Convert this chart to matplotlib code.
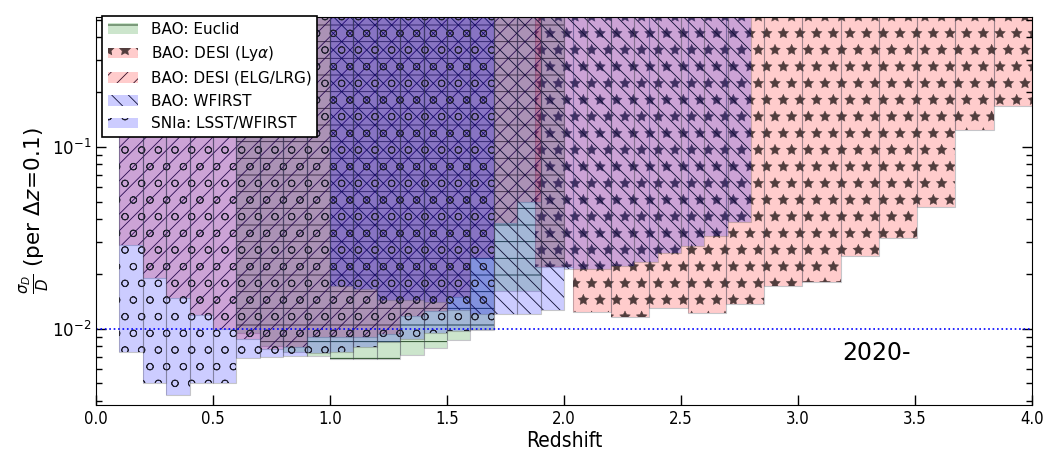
import numpy as np
import matplotlib
matplotlib.use("Agg")
import matplotlib.pyplot as plt

# ---------------- data (lower edge of sigma_D/D per bin, bins of width 0.1) -------------
z_euclid = [0.6, 0.7, 0.8, 0.9, 1.0, 1.1, 1.2, 1.3, 1.4, 1.5, 1.6, 1.7, 1.8, 1.9]
err_euclid = [0.0095, 0.0080, 0.0074, 0.0071, 0.0068, 0.0068, 0.0068, 0.0072,
              0.0078, 0.0087, 0.0098, 0.0162, 0.0162, 0.0220]

# DESI Ly-alpha uses its own (wider) bins
z_lya_edges = [1.875, 2.038, 2.202, 2.365, 2.529, 2.692, 2.856, 3.019,
               3.183, 3.346, 3.510, 3.673, 3.837, 4.0]
err_lya = [0.0218, 0.0124, 0.0116, 0.0130, 0.0122, 0.0137, 0.0172,
           0.0181, 0.0250, 0.0316, 0.0469, 0.124, 0.167]

z_elg = [0.1, 0.2, 0.3, 0.4, 0.5, 0.6, 0.7, 0.8, 0.9, 1.0, 1.1, 1.2, 1.3,
         1.4, 1.5, 1.6, 1.7, 1.8]
err_elg = [0.029, 0.019, 0.0147, 0.0119, 0.0100, 0.0088, 0.0077, 0.0079,
           0.0090, 0.0090, 0.0090, 0.0094, 0.0118, 0.0125, 0.0150, 0.0246,
           0.038, 0.050]

z_wfirst = [1.0, 1.1, 1.2, 1.3, 1.4, 1.5, 1.6, 1.7, 1.8, 1.9, 2.0, 2.1, 2.2,
            2.3, 2.4, 2.5, 2.6, 2.7]
err_wfirst = [0.0172, 0.0166, 0.0143, 0.0143, 0.0140, 0.0126, 0.0120, 0.0121,
              0.0121, 0.0126, 0.0213, 0.0213, 0.0222, 0.0232, 0.0259, 0.0286,
              0.0325, 0.0384]

z_snia = [0.1, 0.2, 0.3, 0.4, 0.5, 0.6, 0.7, 0.8, 0.9, 1.0, 1.1, 1.2, 1.3,
          1.4, 1.5, 1.6]
err_snia = [0.0074, 0.0050, 0.0043, 0.0050, 0.0050, 0.0069, 0.0070, 0.0071,
            0.0073, 0.0074, 0.0079, 0.0084, 0.0088, 0.0095, 0.0097, 0.0100]

labels = ["BAO: Euclid", r"BAO: DESI (Ly$\alpha$)", "BAO: DESI (ELG/LRG)",
          "BAO: WFIRST", "SNIa: LSST/WFIRST"]

TOP = 1.0
DZ = 0.1

plt.rcParams["hatch.linewidth"] = 0.6

fig = plt.figure(figsize=(10.46, 4.49), dpi=100)
ax = fig.add_axes([96 / 1046, 1 - 405 / 449, (1032 - 96) / 1046, (405 - 16.7) / 449])


def draw(left, width, vals, fc, hc, hatch, label, hlw=0.6):
    left = np.asarray(left, float)
    vals = np.asarray(vals, float)
    with plt.rc_context({"hatch.linewidth": hlw}):
        bars = ax.bar(left, TOP - vals, bottom=vals, width=width, align="edge",
                      color=fc, edgecolor=hc, hatch=hatch, linewidth=0, label=label)
    for p in bars:
        if hasattr(p, "set_hatch_linewidth"):
            p.set_hatch_linewidth(hlw)
    ax.bar(left, TOP - vals, bottom=vals, width=width, align="edge",
           fill=False, edgecolor=(0.25, 0.25, 0.3, 0.3), linewidth=0.8)


lya_left = np.array(z_lya_edges[:-1])
lya_w = np.diff(z_lya_edges)

draw(z_euclid, DZ, err_euclid, (0, 0.5, 0, 0.2), (0.05, 0.2, 0.05, 1.0), "-", labels[0])
draw(lya_left, lya_w, err_lya, (1, 0, 0, 0.2), (0.32, 0.24, 0.24, 1.0), "*", labels[1], hlw=0.3)
draw(z_elg, DZ, err_elg, (1, 0, 0, 0.2), (0.2, 0.05, 0.15, 1.0), "//", labels[2])
draw(z_wfirst, DZ, err_wfirst, (0, 0, 1, 0.2), (0.05, 0.05, 0.2, 1.0), "\\\\", labels[3])
draw(z_snia, DZ, err_snia, (0, 0, 1, 0.2), (0.12, 0.12, 0.18, 1.0), "o", labels[4])

ax.axhline(0.01, color="blue", ls=":", lw=1.2)

ax.set_yscale("log")
ax.set_xlim(0.0, 4.0)
ax.set_ylim(0.0038, 0.52)
ax.set_xticks([0.0, 0.5, 1.0, 1.5, 2.0, 2.5, 3.0, 3.5, 4.0])
ax.set_xticklabels(["0.0", "0.5", "1.0", "1.5", "2.0", "2.5", "3.0", "3.5", "4.0"],
                   fontsize=12, fontstretch="condensed")
ax.tick_params(axis="both", which="major", direction="in", length=7, width=1)
ax.tick_params(axis="y", which="minor", direction="in", length=4, width=1)
ax.tick_params(axis="y", which="both", right=True, labelsize=12)
ax.tick_params(axis="x", which="both", top=False)
ax.set_xlabel("Redshift", fontsize=15, fontstretch="condensed", labelpad=2)
ax.set_ylabel(r"$\frac{\sigma_D}{D}$ (per $\Delta z\!=\!0.1$)", fontsize=15.5, labelpad=0)

ax.text(3.19, 0.0073, "2020-", fontsize=17, va="center", ha="left")

leg = ax.legend(loc="upper left", bbox_to_anchor=(0.006, 1.003), borderaxespad=0,
                fontsize=11, fancybox=False, framealpha=1, edgecolor="black")
leg.get_frame().set_linewidth(1.2)
leg.set_zorder(10)

fig.savefig("out.png", dpi=100)
